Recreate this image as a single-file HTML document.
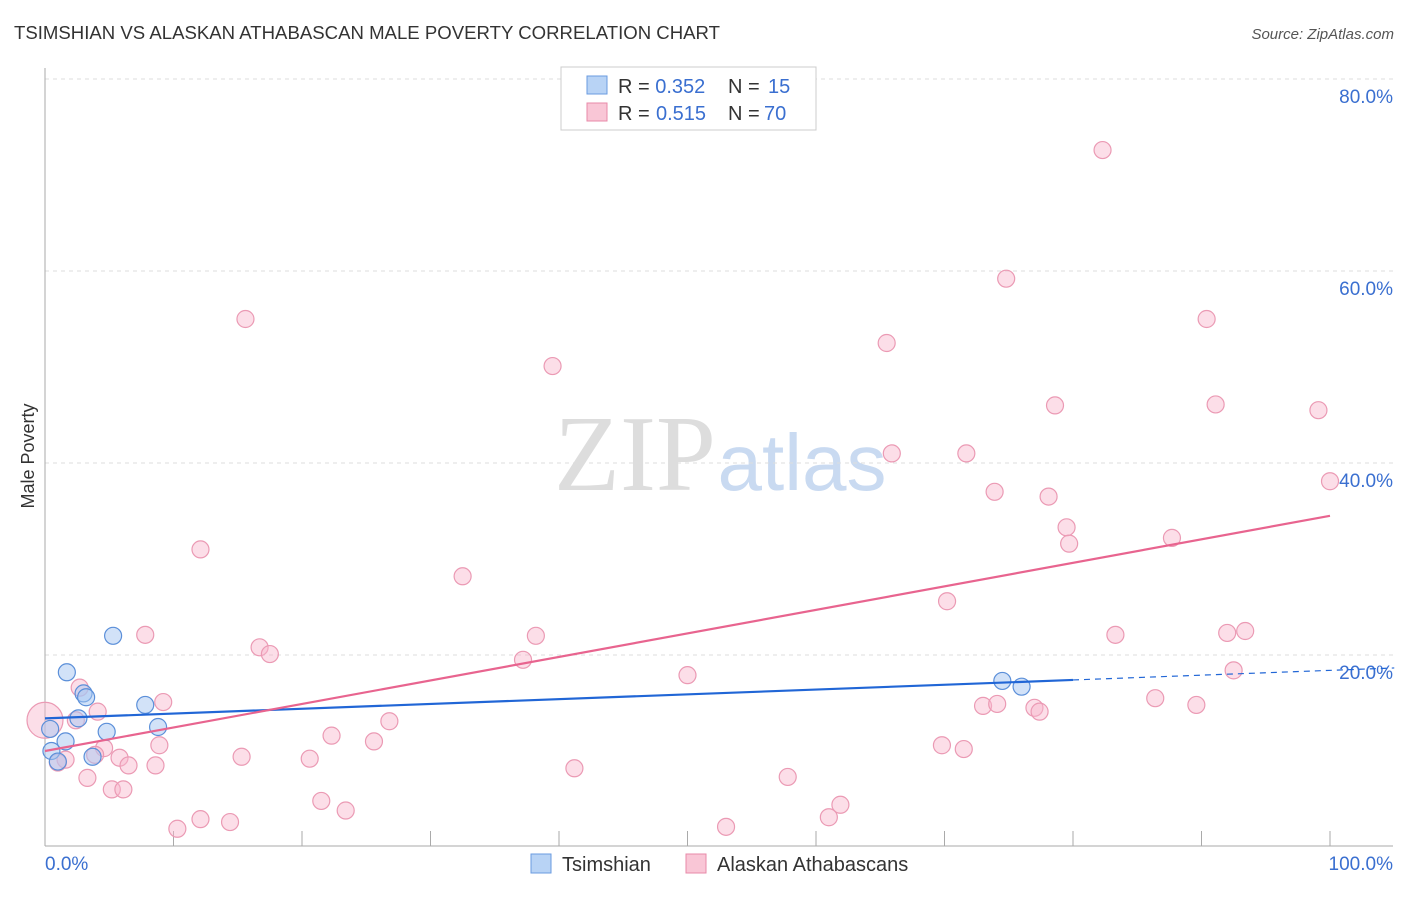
<!DOCTYPE html><html><head><meta charset="utf-8"><style>
body{margin:0;background:#fff;font-family:"Liberation Sans",sans-serif}
</style></head><body>
<svg width="1406" height="892" xmlns="http://www.w3.org/2000/svg" id="c">
<text x="14" y="39" font-size="18" fill="#333" textLength="706" lengthAdjust="spacingAndGlyphs">TSIMSHIAN VS ALASKAN ATHABASCAN MALE POVERTY CORRELATION CHART</text>
<text x="1394" y="39" font-size="15" fill="#555" font-style="italic" text-anchor="end">Source: ZipAtlas.com</text>
<text x="34" y="456" font-size="18" fill="#333" text-anchor="middle" transform="rotate(-90 34 456)">Male Poverty</text>
<g><text x="635" y="490" font-size="108" fill="#ddd" font-family="Liberation Serif,serif" text-anchor="middle">ZIP</text><text x="802" y="490" font-size="80" fill="#c9daf1" text-anchor="middle">atlas</text></g>
<g id="grid"></g><g id="marks"></g>
<g>
<rect x="561" y="67" width="255" height="63" fill="#fff" stroke="#ccc"/>
<rect x="587" y="76" width="20" height="18" fill="#b8d3f5" stroke="#6a9be0"/>
<rect x="587" y="103" width="20" height="18" fill="#f9c6d6" stroke="#e88aa8"/>
<text x="618" y="93" font-size="20" fill="#333">R = <tspan fill="#3a6fd0">0.352</tspan><tspan x="728">N = </tspan><tspan x="768" fill="#3a6fd0">15</tspan></text>
<text x="618" y="120" font-size="20" fill="#333">R = <tspan x="656" fill="#3a6fd0">0.515</tspan><tspan x="728">N = </tspan><tspan x="764" fill="#3a6fd0">70</tspan></text>
</g>
<g>
<rect x="531" y="854" width="20" height="19" fill="#b8d3f5" stroke="#6a9be0"/>
<text x="562" y="871" font-size="20" fill="#333">Tsimshian</text>
<rect x="686" y="854" width="20" height="19" fill="#f9c6d6" stroke="#e88aa8"/>
<text x="717" y="871" font-size="20" fill="#333">Alaskan Athabascans</text>
</g>
</svg>
<script>
const yTicks=[20,40,60,80];
const yTickLabels=["20.0%","40.0%","60.0%","80.0%"];
const xTicks=[0,10,20,30,40,50,60,70,80,90,100];
const blueX=[5.3,1.7,3.0,3.2,2.6,7.8,8.8,4.8,1.6,0.4,0.5,1.0,3.7,74.5,76.0];
const blueY=[22.0,18.2,16.0,15.6,13.4,14.8,12.5,12.0,11.0,12.3,10.0,8.9,9.4,17.3,16.7];
const pinkX=[82.3,74.8,15.6,90.4,65.5,39.5,78.6,91.1,99.1,65.9,71.7,100,73.9,78.1,79.5,79.7,87.7,12.1,32.5,70.2,7.8,38.2,83.3,92.0,93.4,16.7,17.5,37.2,50.0,92.5,2.7,9.2,86.4,73.0,74.1,89.6,77.0,77.4,4.1,2.4,26.8,22.3,25.6,8.9,69.8,71.5,4.6,3.9,5.8,15.3,20.6,1.6,1.0,8.6,6.5,41.2,3.3,57.8,5.2,6.1,21.5,61.9,23.4,12.1,14.4,61.0,10.3,53.0,0.0];
const pinkY=[72.6,59.2,55.0,55.0,52.5,50.1,46.0,46.1,45.5,41.0,41.0,38.1,37.0,36.5,33.3,31.6,32.2,31.0,28.2,25.6,22.1,22.0,22.1,22.3,22.5,20.8,20.1,19.5,17.9,18.4,16.6,15.1,15.5,14.7,14.9,14.8,14.5,14.1,14.1,13.2,13.1,11.6,11.0,10.6,10.6,10.2,10.3,9.6,9.3,9.4,9.2,9.1,8.8,8.5,8.5,8.2,7.2,7.3,6.0,6.0,4.8,4.4,3.8,2.9,2.6,3.1,1.9,2.1,13.2];
const blueTrend=[13.4,0.05];
const pinkTrend=[10.0,0.245];
const X=v=>45+v*12.85, Y=v=>847-v*9.6;
const NS="http://www.w3.org/2000/svg";
function mk(p,t,a){const e=document.createElementNS(NS,t);for(const k in a)e.setAttribute(k,a[k]);p.appendChild(e);return e;}
const g=document.getElementById('grid'), m=document.getElementById('marks');
yTicks.forEach((v,i)=>{
 const l=mk(g,'line',{x1:45,x2:1393,y1:Y(v),y2:Y(v),stroke:'#ddd','stroke-dasharray':'4,4'});
 
 
 const t=mk(g,'text',{x:1393,y:Y(v)+24,'font-size':19,fill:'#3a6fd0','text-anchor':'end'});
 t.textContent=yTickLabels[i];
 
 
});
mk(g,'line',{x1:45,x2:45,y1:68,y2:846,stroke:'#aaa'});
mk(g,'line',{x1:45,x2:1393,y1:846,y2:846,stroke:'#aaa'});
xTicks.forEach(v=>{const l=mk(g,'line',{x1:X(v),x2:X(v),y1:831,y2:846,stroke:'#aaa'});
 
 });
let t0=mk(g,'text',{x:45,y:870,'font-size':19,fill:'#3a6fd0'});t0.textContent='0.0%';


let t1=mk(g,'text',{x:1393,y:870,'font-size':19,fill:'#3a6fd0','text-anchor':'end'});t1.textContent='100.0%';


pinkX.forEach((x,i)=>{const c=mk(m,'circle',{cx:X(x),cy:Y(pinkY[i]),r:i==pinkX.length-1?18:8.5,fill:'rgba(248,182,203,0.45)',stroke:'#eb9ab4','stroke-width':1.2});
 
 });
blueX.forEach((x,i)=>{const c=mk(m,'circle',{cx:X(x),cy:Y(blueY[i]),r:8.5,fill:'rgba(165,198,242,0.5)',stroke:'#5b8fd9','stroke-width':1.2});
 
 });
const bl=mk(m,'line',{x1:X(0),y1:Y(blueTrend[0]),x2:X(80),y2:Y(blueTrend[0]+blueTrend[1]*80),stroke:'#2166d6','stroke-width':2.2});


const bd=mk(m,'line',{x1:X(80),y1:Y(blueTrend[0]+blueTrend[1]*80),x2:X(105),y2:Y(blueTrend[0]+blueTrend[1]*105),stroke:'#2166d6','stroke-width':1.2,'stroke-dasharray':'6,5'});


const pl=mk(m,'line',{x1:X(0),y1:Y(pinkTrend[0]),x2:X(100),y2:Y(pinkTrend[0]+pinkTrend[1]*100),stroke:'#e8648f','stroke-width':2.2});


</script>
</body></html>
